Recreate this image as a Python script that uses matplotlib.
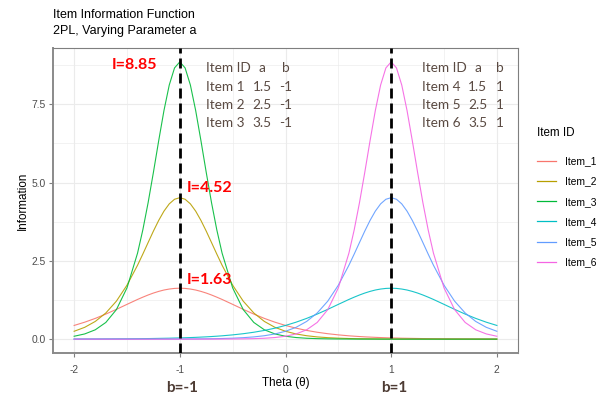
import matplotlib
matplotlib.use("Agg")
import matplotlib.pyplot as plt
from matplotlib.lines import Line2D

plt.rcParams["font.family"] = ["Liberation Sans", "DejaVu Sans"]

# ---- data ----
theta = [-2.0, -1.9, -1.8, -1.7, -1.6, -1.5, -1.4, -1.35, -1.3, -1.25, -1.2, -1.15, -1.1, -1.05,
         -1.0, -0.95, -0.9, -0.85, -0.8, -0.75, -0.7, -0.65, -0.6, -0.5, -0.4, -0.3, -0.2, -0.1,
         0.0, 0.1, 0.2, 0.3, 0.4, 0.5, 0.6, 0.65, 0.7, 0.75, 0.8, 0.85, 0.9, 0.95,
         1.0, 1.05, 1.1, 1.15, 1.2, 1.25, 1.3, 1.35, 1.4, 1.5, 1.6, 1.7, 1.8, 1.9, 2.0]

item_1 = [0.437, 0.541, 0.662, 0.800, 0.951, 1.110, 1.267, 1.340, 1.409, 1.471, 1.524, 1.568, 1.599, 1.619,
          1.626, 1.619, 1.599, 1.568, 1.524, 1.471, 1.409, 1.340, 1.267, 1.110, 0.951, 0.800, 0.662, 0.541,
          0.437, 0.350, 0.278, 0.220, 0.173, 0.136, 0.106, 0.094, 0.083, 0.073, 0.065, 0.057, 0.050, 0.044,
          0.039, 0.035, 0.030, 0.027, 0.024, 0.021, 0.018, 0.016, 0.014, 0.011, 0.009, 0.007, 0.005, 0.004, 0.003]
item_2 = [0.251, 0.377, 0.565, 0.835, 1.213, 1.722, 2.359, 2.715, 3.083, 3.448, 3.789, 4.086, 4.318, 4.465,
          4.516, 4.465, 4.318, 4.086, 3.789, 3.448, 3.083, 2.715, 2.359, 1.722, 1.213, 0.835, 0.565, 0.377,
          0.251, 0.165, 0.109, 0.071, 0.047, 0.031, 0.020, 0.016, 0.013, 0.011, 0.009, 0.007, 0.006, 0.005,
          0.004, 0.003, 0.002, 0.002, 0.002, 0.001, 0.001, 0.001, 0.001, 0.000, 0.000, 0.000, 0.000, 0.000, 0.000]
item_3 = [0.092, 0.166, 0.298, 0.533, 0.943, 1.636, 2.745, 3.488, 4.356, 5.322, 6.332, 7.298, 8.111, 8.658,
          8.851, 8.658, 8.111, 7.298, 6.332, 5.322, 4.356, 3.488, 2.745, 1.636, 0.943, 0.533, 0.298, 0.166,
          0.092, 0.051, 0.028, 0.016, 0.009, 0.005, 0.003, 0.002, 0.001, 0.001, 0.001, 0.001, 0.000, 0.000,
          0.000, 0.000, 0.000, 0.000, 0.000, 0.000, 0.000, 0.000, 0.000, 0.000, 0.000, 0.000, 0.000, 0.000, 0.000]
item_4 = [0.003, 0.004, 0.005, 0.007, 0.009, 0.011, 0.014, 0.016, 0.018, 0.021, 0.024, 0.027, 0.030, 0.035,
          0.039, 0.044, 0.050, 0.057, 0.065, 0.073, 0.083, 0.094, 0.106, 0.136, 0.173, 0.220, 0.278, 0.350,
          0.437, 0.541, 0.662, 0.800, 0.951, 1.110, 1.267, 1.340, 1.409, 1.471, 1.524, 1.568, 1.599, 1.619,
          1.626, 1.619, 1.599, 1.568, 1.524, 1.471, 1.409, 1.340, 1.267, 1.110, 0.951, 0.800, 0.662, 0.541, 0.437]
item_5 = [0.000, 0.000, 0.000, 0.000, 0.000, 0.000, 0.001, 0.001, 0.001, 0.001, 0.002, 0.002, 0.002, 0.003,
          0.004, 0.005, 0.006, 0.007, 0.009, 0.011, 0.013, 0.016, 0.020, 0.031, 0.047, 0.071, 0.109, 0.165,
          0.251, 0.377, 0.565, 0.835, 1.213, 1.722, 2.359, 2.715, 3.083, 3.448, 3.789, 4.086, 4.318, 4.465,
          4.516, 4.465, 4.318, 4.086, 3.789, 3.448, 3.083, 2.715, 2.359, 1.722, 1.213, 0.835, 0.565, 0.377, 0.251]
item_6 = [0.000, 0.000, 0.000, 0.000, 0.000, 0.000, 0.000, 0.000, 0.000, 0.000, 0.000, 0.000, 0.000, 0.000,
          0.000, 0.000, 0.001, 0.001, 0.001, 0.001, 0.001, 0.002, 0.003, 0.005, 0.009, 0.016, 0.028, 0.051,
          0.092, 0.166, 0.298, 0.533, 0.943, 1.636, 2.745, 3.488, 4.356, 5.322, 6.332, 7.298, 8.111, 8.658,
          8.851, 8.658, 8.111, 7.298, 6.332, 5.322, 4.356, 3.488, 2.745, 1.636, 0.943, 0.533, 0.298, 0.166, 0.092]

item_names = ["Item_1", "Item_2", "Item_3", "Item_4", "Item_5", "Item_6"]
item_values = [item_1, item_2, item_3, item_4, item_5, item_6]
item_colors = ["#F8766D", "#B79F00", "#00BA38", "#00BFC4", "#619CFF", "#F564E3"]

b_lines = [-1, 1]
b_labels = ["b=-1", "b=1"]
peak_labels = ["I=8.85", "I=4.52", "I=1.63"]
peak_values = [8.85, 4.52, 1.63]

table_left_rows = [["Item ID", "a", "b"], ["Item 1", "1.5", "-1"], ["Item 2", "2.5", "-1"], ["Item 3", "3.5", "-1"]]
table_right_rows = [["Item ID", "a", "b"], ["Item 4", "1.5", "1"], ["Item 5", "2.5", "1"], ["Item 6", "3.5", "1"]]

x_ticks = [-2, -1, 0, 1, 2]
y_ticks = [0.0, 2.5, 5.0, 7.5]
x_minor = [-1.5, -0.5, 0.5, 1.5]
y_minor = [1.25, 3.75, 6.25, 8.75]

# ---- figure ----
W, H = 607, 396
fig = plt.figure(figsize=(W / 100, H / 100), dpi=100)
ax = fig.add_axes([53 / W, 1 - 353 / H, (518 - 53) / W, (353 - 48) / H])

ax.set_xlim(-2.2, 2.2)
ax.set_ylim(-0.4426, 9.2937)

grid_c = "#EBEBEB"
for v in x_ticks:
    ax.axvline(v, color=grid_c, lw=0.8, zorder=0)
for v in x_minor:
    ax.axvline(v, color=grid_c, lw=0.45, zorder=0)
for v in y_ticks:
    ax.axhline(v, color=grid_c, lw=0.8, zorder=0)
for v in y_minor:
    ax.axhline(v, color=grid_c, lw=0.45, zorder=0)

for name, vals, col in zip(item_names, item_values, item_colors):
    ax.plot(theta, vals, color=col, lw=0.8, label=name, zorder=2, alpha=0.9)

for bv in b_lines:
    ax.axvline(bv, color="black", lw=2.0, dashes=(3.6, 1.8), zorder=3)

ax.set_xticks(x_ticks)
ax.set_xticklabels([str(v) for v in x_ticks])
ax.set_yticks(y_ticks)
ax.set_yticklabels([f"{v:.1f}" for v in y_ticks])
ax.tick_params(axis="both", colors="#7F7F7F", labelcolor="#4D4D4D", labelsize=7.4,
               length=2.8, width=0.8)
ax.tick_params(axis="x", pad=5.5)
ax.tick_params(axis="y", pad=2.5)

for side in ["top", "right"]:
    ax.spines[side].set_color("#7F7F7F")
    ax.spines[side].set_linewidth(0.8)
for side in ["left", "bottom"]:
    ax.spines[side].set_color("#8A8A8A")
    ax.spines[side].set_linewidth(1.4)

ax.set_xlabel("Theta (θ)", fontsize=8.4, color="black", labelpad=2)
ax.set_ylabel("Information", fontsize=8.4, color="black", labelpad=2)

fig.text(53 / W, 1 - 9 / H, "Item Information Function\n2PL, Varying Parameter a",
         ha="left", va="top", fontsize=9.0, color="black", linespacing=1.45)

# peak annotations
red = "#FF0000"
pk = dict(color=red, fontsize=11.5, fontweight="bold", va="center", family="Lato")
ax.text(-1.21, 8.76, peak_labels[0], ha="right", **pk)
ax.text(-0.93, 4.84, peak_labels[1], ha="left", **pk)
ax.text(-0.93, 1.90, peak_labels[2], ha="left", **pk)

# parameter tables
tcol = "#5A4A42"
def draw_table(rows, x0, xa, xb, y0, dy):
    for i, r in enumerate(rows):
        y = y0 - i * dy
        ax.text(x0, y, r[0], color=tcol, fontsize=9.8, ha="left", va="center", family="Lato")
        ax.text(xa, y, r[1], color=tcol, fontsize=9.8, ha="center", va="center", family="Lato")
        ax.text(xb, y, r[2], color=tcol, fontsize=9.8, ha="center", va="center", family="Lato")

draw_table(table_left_rows, -0.75, -0.22, 0.0, 8.64, 0.58)
draw_table(table_right_rows, 1.29, 1.82, 2.03, 8.64, 0.58)

# b labels below axis
for bv, lab in zip(b_lines, b_labels):
    ax.annotate(lab, xy=(bv, 0), xycoords=("data", "axes fraction"), xytext=(2, -25.5),
                textcoords="offset points", ha="center", va="center", fontsize=11,
                fontweight="bold", color="#4D3B33", family="Lato")

# legend
fig.text(537 / W, 1 - 133 / H, "Item ID", fontsize=8.4, ha="left", va="center")
handles = [Line2D([0], [0], color=c, lw=0.9) for c in item_colors]
leg = fig.legend(handles, item_names, loc="upper left", bbox_to_anchor=(530 / W, 1 - 149 / H),
                 frameon=False, fontsize=7.4, handlelength=1.8, handletextpad=0.9,
                 labelspacing=1.0, borderpad=0.2)

fig.savefig("out.png", dpi=100)
